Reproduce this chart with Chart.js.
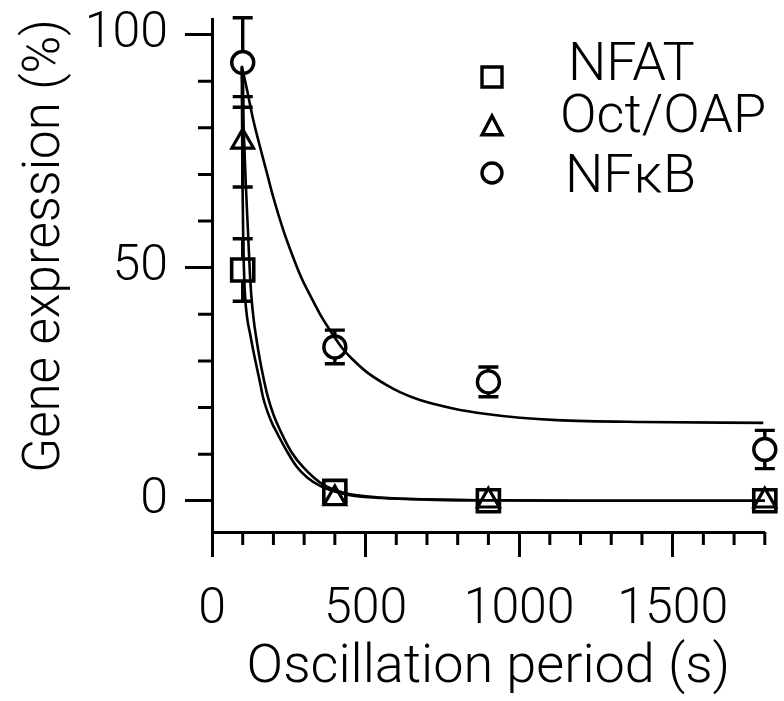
<!DOCTYPE html>
<html>
<head>
<meta charset="utf-8">
<script src="https://cdn.jsdelivr.net/npm/chart.js@4.4.1/dist/chart.umd.min.js"></script>
<style>
  html, body { margin: 0; padding: 0; background: #fff; }
</style>
</head>
<body>
<canvas id="chart" width="784" height="701"></canvas>
<script>
// measured points (period in s, expression in %)
const periods = [100, 400, 900, 1800];
const nfat = [49.5, 2, 0, 0];
const nfatErr = [6.7, 1.5, 0.4, 0.4];
const oct = [77, 0.5, 0, 0];
const octErr = [9.7, 1, 0.4, 0.4];
const nfkb = [94, 33, 25.5, 11];
const nfkbErr = [9.6, 3.6, 3.2, 4.1];

// fitted curves
const nfkbFitX = [97, 113, 135, 156, 180, 200, 230, 254, 290, 320, 352, 380, 427, 460, 504, 569, 612, 677, 785, 894, 1003, 1122, 1393, 1795];
const nfkbFitY = [93.3, 88.5, 81.5, 76, 70, 65, 58.5, 54, 48, 44, 40, 37, 32.5, 30.2, 27.6, 24.8, 23.3, 21.6, 19.8, 18.6, 17.8, 17.3, 16.9, 16.7];
const nfatFitX = [97, 99, 102, 106, 113, 125, 135, 156, 167, 190, 216, 245, 276, 310, 352, 400, 450, 550, 700, 900, 1200, 1800];
const nfatFitY = [93, 70, 55, 46, 40, 35.5, 32, 25.5, 22, 17.5, 14, 10.5, 7.3, 5, 3.2, 2, 1.2, 0.6, 0.25, 0.1, 0, 0];
const octFitX = [97, 103, 110, 117, 124, 132, 150, 172, 183, 200, 227, 260, 297, 352, 400, 450, 550, 700, 900, 1200, 1800];
const octFitY = [93, 80, 68, 58, 48, 41, 32.5, 25, 22, 18.5, 14.4, 10.3, 7.2, 3.9, 2.3, 1.4, 0.7, 0.3, 0.1, 0, 0];

const xTicks = [0, 500, 1000, 1500];
const xMinor = [100, 200, 300, 400, 600, 700, 800, 900, 1100, 1200, 1300, 1400, 1600, 1700, 1800];
const yTicks = [0, 50, 100];
const yMinor = [10, 20, 30, 40, 60, 70, 80, 90];
const seriesNames = ["NFAT", "Oct/OAP", "NFκB"];

const FAMILY = "Roboto, 'Liberation Sans', sans-serif";
const tickFont = { family: FAMILY, size: 50, weight: '300' };
const xTitleFont = { family: FAMILY, size: 54, weight: '300' };
const yTitleFont = { family: FAMILY, size: 51, weight: '300' };

const pts = vals => periods.map((p, i) => ({ x: p, y: vals[i] }));
const curve = (xs, ys) => xs.map((x, i) => ({ x, y: ys[i] }));

const markerDs = (label, vals, style, radius, bw, order) => ({
  label, data: pts(vals), showLine: false, pointStyle: style,
  pointRadius: radius, pointBorderWidth: bw, pointBorderColor: '#000',
  pointBackgroundColor: '#fff', order, clip: false
});
const fitDs = (xs, ys) => ({
  data: curve(xs, ys), showLine: true, pointRadius: 0, borderColor: '#000',
  borderWidth: 2.6, cubicInterpolationMode: 'monotone', order: 0, clip: false
});

function drawMarker(ctx, style, x, y, s) {
  ctx.beginPath();
  if (style === 'rect') {
    ctx.rect(x - s, y - s, 2 * s, 2 * s);
  } else if (style === 'triangle') {
    ctx.moveTo(x, y - s);
    ctx.lineTo(x + s * 0.9, y + s * 0.7);
    ctx.lineTo(x - s * 0.9, y + s * 0.7);
    ctx.closePath();
  } else {
    ctx.arc(x, y, s, 0, Math.PI * 2);
  }
  ctx.fillStyle = '#fff';
  ctx.fill();
  ctx.stroke();
}

const extras = {
  id: 'extras',
  beforeDatasetsDraw(chart) {
    const { ctx, scales: { x, y } } = chart;
    ctx.save();
    ctx.strokeStyle = '#000';
    ctx.lineWidth = 3.4;
    [[nfat, nfatErr], [oct, octErr], [nfkb, nfkbErr]].forEach(([vals, errs]) => {
      periods.forEach((p, i) => {
        const px = x.getPixelForValue(p);
        const top = y.getPixelForValue(vals[i] + errs[i]);
        const bot = y.getPixelForValue(vals[i] - errs[i]);
        ctx.beginPath();
        ctx.moveTo(px, top); ctx.lineTo(px, bot);
        ctx.moveTo(px - 10, top); ctx.lineTo(px + 10, top);
        ctx.moveTo(px - 10, bot); ctx.lineTo(px + 10, bot);
        ctx.stroke();
      });
    });
    ctx.restore();
  },
  afterDraw(chart) {
    const { ctx, scales: { x, y }, chartArea } = chart;
    ctx.save();
    ctx.strokeStyle = '#000';
    ctx.lineWidth = 3;
    ctx.beginPath();
    xMinor.forEach(v => {
      const px = x.getPixelForValue(v);
      ctx.moveTo(px, chartArea.bottom); ctx.lineTo(px, chartArea.bottom + 13);
    });
    yMinor.forEach(v => {
      const py = y.getPixelForValue(v);
      ctx.moveTo(chartArea.left, py); ctx.lineTo(chartArea.left - 14, py);
    });
    ctx.stroke();

    // legend
    const styles = ['rect', 'triangle', 'circle'];
    const mY = [77, 127, 173];
    const sizes = [10, 11, 10];
    const tX = [568, 560, 565];
    const tY = [80, 132, 192];
    ctx.lineWidth = 3.4;
    styles.forEach((st, i) => {
      drawMarker(ctx, st, 492, mY[i], sizes[i]);
      ctx.fillStyle = '#000';
      ctx.font = "300 54px " + FAMILY;
      ctx.textBaseline = 'alphabetic';
      ctx.fillText(seriesNames[i], tX[i], tY[i]);
    });
    ctx.restore();
  }
};

new Chart(document.getElementById('chart'), {
  type: 'scatter',
  data: {
    datasets: [
      markerDs(seriesNames[0], nfat, 'rect', 15.6, 3.6, 3),
      markerDs(seriesNames[1], oct, 'triangle', 12.5, 3.2, 2),
      markerDs(seriesNames[2], nfkb, 'circle', 11, 3.4, 1),
      fitDs(nfatFitX, nfatFitY),
      fitDs(octFitX, octFitY),
      fitDs(nfkbFitX, nfkbFitY)
    ]
  },
  options: {
    responsive: false,
    animation: false,
    devicePixelRatio: 1,
    layout: { padding: { top: 16, right: 19, left: 0, bottom: 0 } },
    plugins: { legend: { display: false }, tooltip: { enabled: false } },
    scales: {
      x: {
        type: 'linear', min: 0, max: 1800,
        afterBuildTicks: s => { s.ticks = xTicks.map(v => ({ value: v })); },
        afterFit: s => { s.height = 169; s.paddingLeft = 0; s.paddingRight = 0; },
        grid: { drawOnChartArea: false, drawTicks: true, tickLength: 25, tickWidth: 3, tickColor: '#000' },
        border: { display: true, color: '#000', width: 3 },
        ticks: { color: '#000', font: tickFont, padding: 23, maxRotation: 0, autoSkip: false, callback: v => String(v) },
        title: { display: true, text: 'Oscillation period (s)', color: '#000', font: xTitleFont, padding: { top: 0, bottom: 0 } }
      },
      y: {
        type: 'linear', min: -6.7, max: 103.3,
        afterBuildTicks: s => { s.ticks = yTicks.map(v => ({ value: v })); },
        afterFit: s => { s.width = 212; s.paddingTop = 0; s.paddingBottom = 0; },
        grid: { drawOnChartArea: false, drawTicks: true, tickLength: 27, tickWidth: 3, tickColor: '#000' },
        border: { display: true, color: '#000', width: 3 },
        ticks: { color: '#000', font: tickFont, padding: 17, autoSkip: false, callback: v => String(v) },
        title: { display: true, text: 'Gene expression (%)', color: '#000', font: yTitleFont, align: 'end', padding: { top: 16, bottom: 0 } }
      }
    }
  },
  plugins: [extras]
});
</script>
</body>
</html>
